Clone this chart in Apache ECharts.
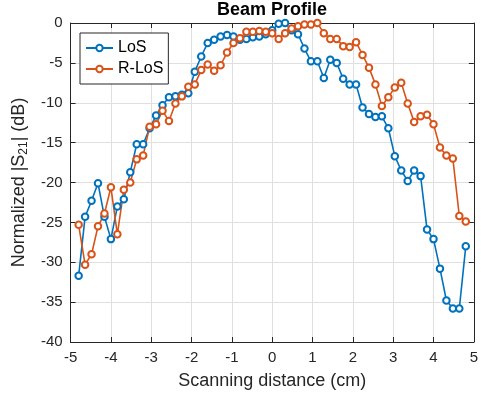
<!DOCTYPE html>
<html>
<head>
<meta charset="utf-8">
<script src="https://cdn.jsdelivr.net/npm/echarts@6/dist/echarts.min.js"></script>
<style>
  html, body { margin: 0; padding: 0; background: #fff; }
  #chart { width: 481px; height: 398px; }
</style>
</head>
<body>
<div id="chart"></div>
<script>
// Scan positions (cm)
const positions = [
  -4.80, -4.64, -4.48, -4.32, -4.16, -4.00, -3.84, -3.68, -3.52, -3.36,
  -3.20, -3.04, -2.88, -2.72, -2.56, -2.40, -2.24, -2.08, -1.92, -1.76,
  -1.60, -1.44, -1.28, -1.12, -0.96, -0.80, -0.64, -0.48, -0.32, -0.16,
   0.00,  0.16,  0.32,  0.48,  0.64,  0.80,  0.96,  1.12,  1.28,  1.44,
   1.60,  1.76,  1.92,  2.08,  2.24,  2.40,  2.56,  2.72,  2.88,  3.04,
   3.20,  3.36,  3.52,  3.68,  3.84,  4.00,  4.16,  4.32,  4.48,  4.64,
   4.80
];

// Normalized |S21| in dB, line-of-sight
const losDb = [
  -31.7, -24.3, -22.3, -20.1, -24.3, -27.1, -23.0, -22.1, -18.7, -15.2,
  -15.2, -13.2, -11.6, -10.3,  -9.3,  -9.2,  -9.0,  -8.8,  -6.1,  -4.2,
   -2.5,  -2.1,  -1.7,  -1.5,  -1.7,  -2.1,  -2.0,  -1.8,  -1.7,  -1.4,
   -0.9,  -0.1,   0.0,  -0.9,  -1.4,  -3.2,  -4.8,  -4.8,  -6.9,  -4.6,
   -5.0,  -7.0,  -7.7,  -7.7, -10.6, -11.4, -11.8, -11.7, -13.2, -16.7,
  -18.5, -19.8, -18.5, -19.2, -25.9, -27.1, -30.8, -34.8, -35.8, -35.8,
  -28.0
];

// Normalized |S21| in dB, reflected line-of-sight
const rlosDb = [
  -25.3, -30.3, -29.0, -25.5, -23.9, -20.6, -26.5, -20.9, -20.0, -17.1,
  -16.6, -13.0, -12.7, -11.0, -12.3, -10.1,  -9.2,  -8.0,  -7.7,  -5.9,
   -5.2,  -6.0,  -5.3,  -3.7,  -2.5,  -1.9,  -1.1,  -1.1,  -1.0,  -1.1,
   -1.3,  -2.0,  -1.3,  -0.7,  -0.4,  -0.2,  -0.2,   0.0,  -1.3,  -2.0,
   -2.0,  -2.9,  -3.0,  -2.4,  -4.0,  -5.6,  -7.7, -10.4,  -9.3,  -8.1,
   -7.5, -10.1, -12.4, -11.7, -11.5, -12.7, -15.6, -16.6, -17.0, -24.2,
  -24.9
];

const xTicks = { min: -5, max: 5, interval: 1 };
const yTicks = { min: -40, max: 0, interval: 5 };

const FONT = 'Liberation Sans, Arial, Helvetica, sans-serif';
const INK = '#262626';
const GRID = '#dfdfdf';

const pairs = (ys) => positions.map((x, i) => [x, ys[i]]);

function boxAxis(base, pos, showLabel) {
  return Object.assign({
    type: 'value',
    position: pos,
    axisLine: { show: true, onZero: false, lineStyle: { color: INK, width: 1 } },
    axisTick: { show: true, inside: true, length: 5, lineStyle: { color: INK, width: 1 } },
    axisLabel: { show: showLabel, color: INK, fontFamily: FONT, fontSize: 15, margin: 8 },
    splitLine: { show: showLabel, lineStyle: { color: GRID, width: 1 } }
  }, base);
}

const chart = echarts.init(document.getElementById('chart'), null, { renderer: 'canvas' });

chart.setOption({
  animation: false,
  backgroundColor: '#ffffff',
  title: {
    text: 'Beam Profile',
    left: 217,
    top: 1,
    padding: 0,
    textStyle: { fontFamily: FONT, fontSize: 18, fontWeight: 'bold', color: '#000' }
  },
  grid: { left: 69, right: 2, top: 23, bottom: 56, containLabel: false },
  legend: {
    orient: 'vertical',
    left: 80,
    top: 33,
    padding: [7, 5, 7, 5],
    itemGap: 5,
    itemWidth: 27,
    itemHeight: 8,
    borderColor: INK,
    borderWidth: 1,
    backgroundColor: '#fff',
    textStyle: { fontFamily: FONT, fontSize: 16, color: '#000' },
    data: ['LoS', 'R-LoS']
  },
  xAxis: [
    boxAxis({
      min: xTicks.min, max: xTicks.max, interval: xTicks.interval,
      name: 'Scanning distance (cm)',
      nameLocation: 'middle',
      nameGap: 30,
      nameTextStyle: { fontFamily: FONT, fontSize: 18, color: INK }
    }, 'bottom', true),
    boxAxis({ min: xTicks.min, max: xTicks.max, interval: xTicks.interval }, 'top', false)
  ],
  yAxis: [
    boxAxis({
      min: yTicks.min, max: yTicks.max, interval: yTicks.interval,
      name: 'Normalized |S{sub|21}| (dB)',
      nameLocation: 'middle',
      nameRotate: 90,
      nameGap: 36,
      nameTextStyle: {
        fontFamily: FONT, fontSize: 18, color: INK, lineHeight: 22,
        rich: { sub: { fontFamily: FONT, fontSize: 12, color: INK, verticalAlign: 'bottom', lineHeight: 14 } }
      }
    }, 'left', true),
    boxAxis({ min: yTicks.min, max: yTicks.max, interval: yTicks.interval }, 'right', false)
  ],
  series: [
    {
      name: 'LoS',
      type: 'line',
      data: pairs(losDb),
      symbol: 'emptyCircle',
      symbolSize: 6.5,
      color: '#0072BD',
      lineStyle: { width: 1.6 },
      itemStyle: { borderWidth: 1.5 }
    },
    {
      name: 'R-LoS',
      type: 'line',
      data: pairs(rlosDb),
      symbol: 'emptyCircle',
      symbolSize: 6.5,
      color: '#D95319',
      lineStyle: { width: 1.6 },
      itemStyle: { borderWidth: 1.5 }
    }
  ]
});
</script>
</body>
</html>
